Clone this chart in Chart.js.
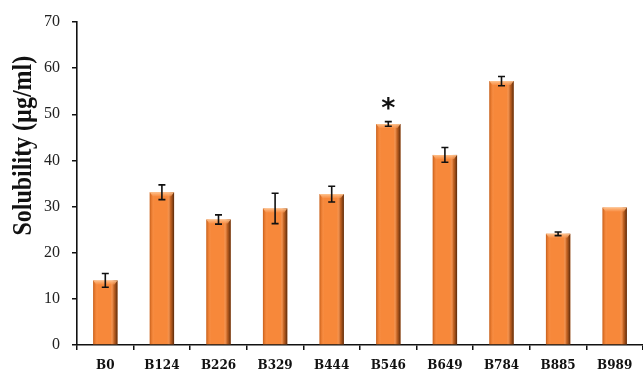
<!DOCTYPE html>
<html>
<head>
<meta charset="utf-8">
<script src="https://cdn.jsdelivr.net/npm/chart.js@4/dist/chart.umd.min.js"></script>
<style>
  html, body { margin: 0; padding: 0; background: #ffffff; }
  #wrap { width: 643px; height: 370px; position: relative; }
</style>
</head>
<body>
<div id="wrap"><canvas id="chart" width="643" height="370"></canvas></div>
<script>
// Formulation codes along the x axis
const categories = ['B0', 'B124', 'B226', 'B329', 'B444', 'B546', 'B649', 'B784', 'B885', 'B989'];
// Mean solubility (µg/ml) per formulation
const solubility = [14.0, 33.1, 27.2, 29.6, 32.7, 47.9, 41.2, 57.2, 24.1, 29.8];
// Standard deviation per formulation (null = no error bar)
const errors = [1.5, 1.6, 1.0, 3.3, 1.7, 0.5, 1.6, 1.0, 0.4, null];
// Significance markers drawn above the bars
const significance = ['', '', '', '', '', '*', '', '', '', ''];
// Y axis tick values
const yTicks = [0, 10, 20, 30, 40, 50, 60, 70];
const yTitle = 'Solubility (µg/ml)';

// Bevelled shading drawn over each bar, then error bars and markers
const barDecor = {
  id: 'barDecor',
  afterDatasetsDraw(chart) {
    const ctx = chart.ctx;
    const meta = chart.getDatasetMeta(0);
    const y = chart.scales.y;
    meta.data.forEach((bar, i) => {
      const p = bar.getProps(['x', 'y', 'base', 'width'], true);
      const l = p.x - p.width / 2, r = p.x + p.width / 2;
      const t = p.y, b = p.base;
      ctx.save();
      // side shading
      const g = ctx.createLinearGradient(l, 0, r, 0);
      g.addColorStop(0, 'rgba(150,60,5,0.55)');
      g.addColorStop(0.1, 'rgba(200,90,20,0.15)');
      g.addColorStop(0.2, 'rgba(255,255,255,0)');
      g.addColorStop(0.72, 'rgba(255,255,255,0)');
      g.addColorStop(0.85, 'rgba(140,60,10,0.45)');
      g.addColorStop(1, 'rgba(70,30,5,0.9)');
      ctx.fillStyle = g;
      ctx.fillRect(l, t, r - l, b - t);
      // top bevel
      const bev = 4;
      const tg = ctx.createLinearGradient(0, t, 0, t + bev);
      tg.addColorStop(0, 'rgba(255,200,150,0.95)');
      tg.addColorStop(1, 'rgba(250,150,80,0.6)');
      ctx.fillStyle = tg;
      ctx.beginPath();
      ctx.moveTo(l, t);
      ctx.lineTo(r, t);
      ctx.lineTo(r - 3, t + bev);
      ctx.lineTo(l + 3, t + bev);
      ctx.closePath();
      ctx.fill();
      ctx.restore();

      // error bar
      const e = errors[i];
      if (e !== null && e !== undefined) {
        const v = solubility[i];
        const yTop = y.getPixelForValue(v + e);
        const yBot = y.getPixelForValue(v - e);
        const cap = 3.5;
        ctx.save();
        ctx.strokeStyle = '#111';
        ctx.lineWidth = 1.6;
        ctx.beginPath();
        ctx.moveTo(p.x, yTop); ctx.lineTo(p.x, yBot);
        ctx.moveTo(p.x - cap, yTop); ctx.lineTo(p.x + cap, yTop);
        ctx.moveTo(p.x - cap, yBot); ctx.lineTo(p.x + cap, yBot);
        ctx.stroke();
        ctx.restore();
      }

      // significance marker
      const m = significance[i];
      if (m) {
        const top = solubility[i] + (errors[i] || 0);
        ctx.save();
        ctx.fillStyle = '#111';
        ctx.font = 'bold 27px "DejaVu Sans"';
        ctx.textAlign = 'center';
        ctx.textBaseline = 'middle';
        ctx.fillText(m, p.x, y.getPixelForValue(top) - 12);
        ctx.restore();
      }
    });
  }
};

// Rotated y axis title, placed in the left margin of the y scale
const yTitlePlugin = {
  id: 'yTitle',
  afterDraw(chart) {
    const ctx = chart.ctx;
    const y = chart.scales.y;
    ctx.save();
    ctx.translate(y.left + 23.5, y.getPixelForValue(43.2));
    ctx.rotate(-Math.PI / 2);
    ctx.scale(1, 1.15);
    ctx.fillStyle = '#111';
    ctx.font = 'bold 24px "Liberation Serif"';
    ctx.textAlign = 'center';
    ctx.textBaseline = 'middle';
    ctx.fillText(yTitle, 0, 0);
    ctx.restore();
  }
};

new Chart(document.getElementById('chart'), {
  type: 'bar',
  data: {
    labels: categories,
    datasets: [{
      data: solubility,
      backgroundColor: '#F7883A',
      borderWidth: 0,
      barPercentage: 0.43,
      categoryPercentage: 1.0
    }]
  },
  options: {
    responsive: false,
    animation: false,
    devicePixelRatio: 1,
    layout: { padding: { top: 22, right: 0, bottom: 0, left: 0 } },
    plugins: {
      legend: { display: false },
      tooltip: { enabled: false }
    },
    scales: {
      x: {
        offset: true,
        grid: {
          offset: true,
          drawOnChartArea: false,
          drawTicks: true,
          tickLength: 5,
          color: '#111',
          lineWidth: 1.5
        },
        border: { display: true, color: '#111', width: 1.6 },
        ticks: {
          color: '#111',
          padding: 9,
          font: { family: '"DejaVu Serif"', size: 12, weight: 'bold' }
        },
        afterFit(scale) { scale.height = 25; }
      },
      y: {
        min: 0,
        max: 70,
        afterBuildTicks(scale) { scale.ticks = yTicks.map(v => ({ value: v })); },
        grid: {
          drawOnChartArea: false,
          drawTicks: true,
          tickLength: 5,
          color: '#111',
          lineWidth: 1.5
        },
        border: { display: true, color: '#111', width: 1.6 },
        ticks: {
          color: '#222',
          padding: 12,
          font: { family: '"Liberation Serif"', size: 16 }
        },
        afterFit(scale) { scale.width = 77; }
      }
    }
  },
  plugins: [barDecor, yTitlePlugin]
});
</script>
</body>
</html>
